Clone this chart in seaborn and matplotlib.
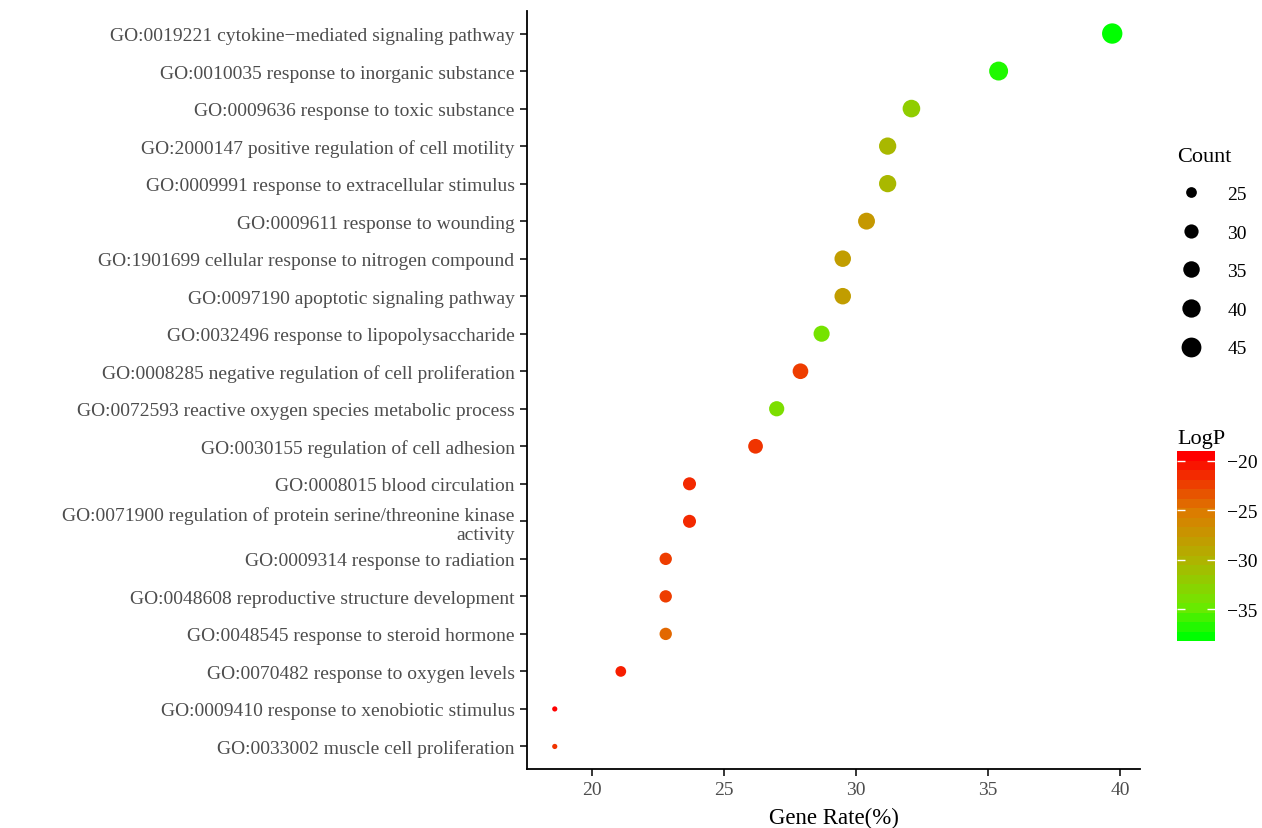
import numpy as np
import pandas as pd
import matplotlib
matplotlib.use("Agg")
import matplotlib.pyplot as plt
import seaborn as sns
from matplotlib.colors import LinearSegmentedColormap, Normalize, PowerNorm
from matplotlib.cm import ScalarMappable
from matplotlib.lines import Line2D

# GO enrichment terms, top to bottom
terms = [
    "GO:0019221 cytokine\u2212mediated signaling pathway",
    "GO:0010035 response to inorganic substance",
    "GO:0009636 response to toxic substance",
    "GO:2000147 positive regulation of cell motility",
    "GO:0009991 response to extracellular stimulus",
    "GO:0009611 response to wounding",
    "GO:1901699 cellular response to nitrogen compound",
    "GO:0097190 apoptotic signaling pathway",
    "GO:0032496 response to lipopolysaccharide",
    "GO:0008285 negative regulation of cell proliferation",
    "GO:0072593 reactive oxygen species metabolic process",
    "GO:0030155 regulation of cell adhesion",
    "GO:0008015 blood circulation",
    "GO:0071900 regulation of protein serine/threonine kinase\nactivity",
    "GO:0009314 response to radiation",
    "GO:0048608 reproductive structure development",
    "GO:0048545 response to steroid hormone",
    "GO:0070482 response to oxygen levels",
    "GO:0009410 response to xenobiotic stimulus",
    "GO:0033002 muscle cell proliferation",
]
gene_rate = [39.7, 35.4, 32.1, 31.2, 31.2, 30.4, 29.5, 29.5, 28.7, 27.9,
             27.0, 26.2, 23.7, 23.7, 22.8, 22.8, 22.8, 21.1, 18.6, 18.6]
count = [47, 42, 38, 37, 37, 36, 35, 35, 34, 33,
         32, 31, 28, 28, 27, 27, 27, 25, 22, 22]
logp = [-38.2, -37.3, -32.5, -30.5, -30.5, -27.5, -28.0, -28.0, -34.5, -22.0,
        -34.0, -21.5, -21.0, -21.0, -22.0, -22.0, -24.0, -20.5, -19.0, -21.5]
count_breaks = [25, 30, 35, 40, 45]
logp_breaks = [-20, -25, -30, -35]

df = pd.DataFrame({"Term": terms, "GeneRate": gene_rate, "Count": count, "LogP": logp})

plt.rcParams["font.family"] = ["Liberation Serif", "DejaVu Serif"]

cmap = LinearSegmentedColormap.from_list(
    "green_red",
    [(0.0, "#00FF00"), (0.17, "#70E800"), (0.43, "#B0B200"), (0.69, "#DC7C00"), (1.0, "#FF0000")],
)
norm = Normalize(min(logp), max(logp))
size_range = (14, 215)
size_norm = PowerNorm(gamma=0.7, vmin=min(count), vmax=max(count))

fig = plt.figure(figsize=(12.62, 8.29), dpi=100)
ax = fig.add_axes([0.4176, 0.0712, 0.4857, 0.9143])

sns.scatterplot(data=df, x="GeneRate", y="Term", hue="LogP", size="Count",
                palette=cmap, hue_norm=norm, sizes=size_range, size_norm=size_norm,
                edgecolor="none", legend=False, ax=ax)

ax.set_ylim(len(terms) - 0.4, -0.6)
ax.set_xlim(17.55, 40.75)
ax.set_xticks([20, 25, 30, 35, 40])
ax.set_xlabel("Gene Rate(%)", fontsize=16.5, color="black", labelpad=6)
ax.set_ylabel("")
for s in ["top", "right"]:
    ax.spines[s].set_visible(False)
for s in ["left", "bottom"]:
    ax.spines[s].set_linewidth(1.3)
    ax.spines[s].set_color("black")
ax.tick_params(axis="both", length=5, width=1.1, color="black",
               labelsize=14, labelcolor="#4D4D4D", pad=4)
for lab in ax.get_yticklabels():
    lab.set_multialignment("right")

# Count legend, same size scale as the points
def area(c):
    return size_range[0] + float(size_norm(c)) * (size_range[1] - size_range[0])

handles = [Line2D([], [], marker="o", ls="", color="black", markeredgewidth=0,
                  markersize=np.sqrt(area(c))) for c in count_breaks]
leg = fig.legend(handles, [str(c) for c in count_breaks], title="Count",
                 loc="upper left", bbox_to_anchor=(1177 / 1262, 1 - 148 / 829),
                 frameon=False, fontsize=14, title_fontsize=16,
                 labelspacing=1.08, handlelength=1.4, handletextpad=1.2,
                 borderaxespad=0, borderpad=0)
leg._legend_box.align = "left"
leg._legend_box.sep = 14

# LogP colour bar
cax = fig.add_axes([1177 / 1262, 1 - 642 / 829, 38 / 1262, 190 / 829])
cb = fig.colorbar(ScalarMappable(norm=norm, cmap=cmap.resampled(20)), cax=cax)
cb.outline.set_visible(False)
cb.set_ticks(logp_breaks)
cax.tick_params(axis="y", direction="in", color="white", length=6, width=1,
                left=True, right=True, labelsize=14, labelcolor="black", pad=9)
cax.set_title("LogP", loc="left", fontsize=16, pad=6)

fig.savefig("out.png", dpi=100)
